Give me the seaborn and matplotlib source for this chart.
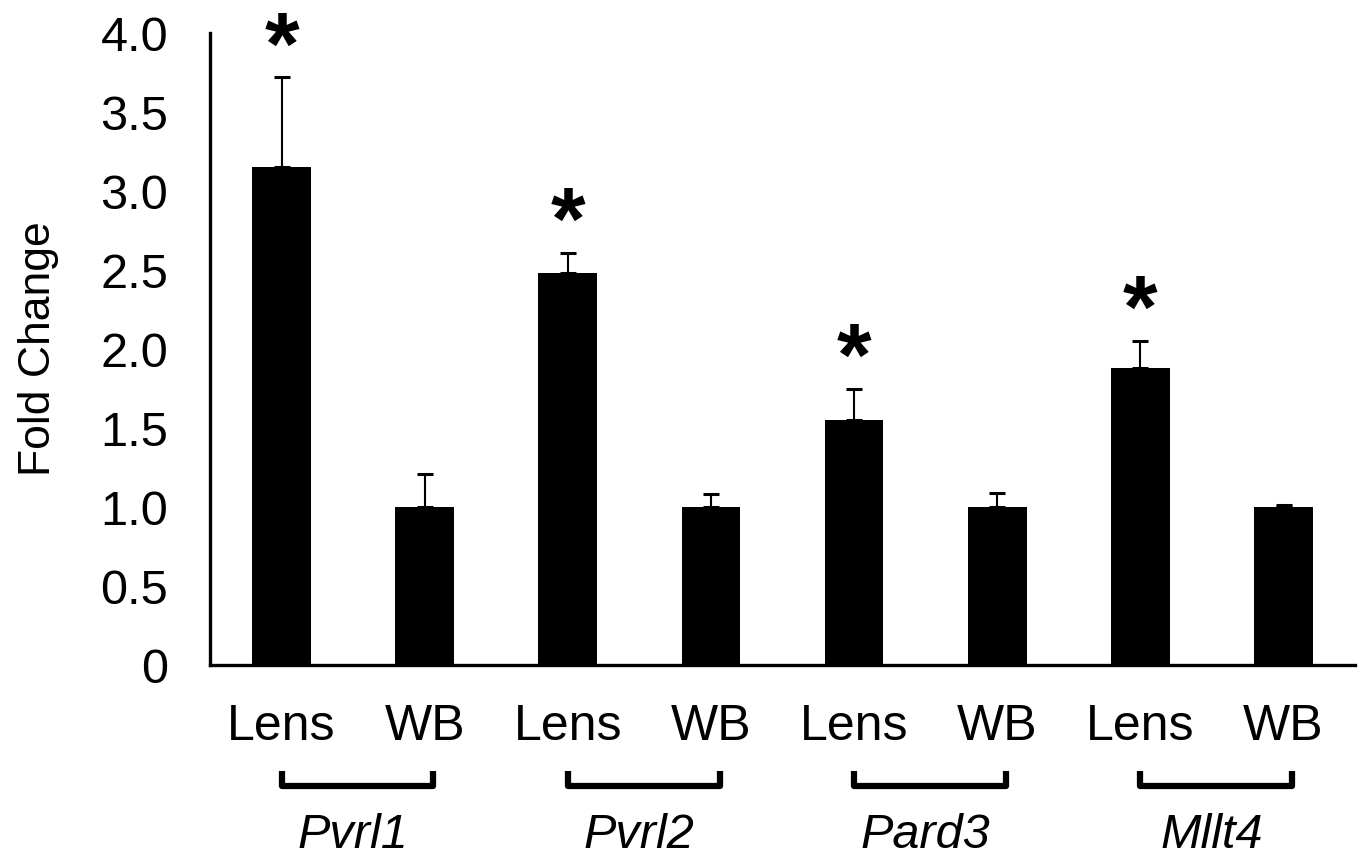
import matplotlib
matplotlib.use("Agg")
import matplotlib.pyplot as plt
import matplotlib.transforms as mtransforms
import seaborn as sns
import pandas as pd
import numpy as np

# ---- data ----
genes = ["Pvrl1", "Pvrl2", "Pard3", "Mllt4"]
tissues = ["Lens", "WB"]
lens_values = [3.15, 2.48, 1.55, 1.88]
wb_values = [1.00, 1.00, 1.00, 1.00]
lens_err = [0.57, 0.13, 0.20, 0.17]
wb_err = [0.21, 0.08, 0.09, 0.01]
significant = [True, True, True, True]
y_ticks = [0, 0.5, 1.0, 1.5, 2.0, 2.5, 3.0, 3.5, 4.0]
y_tick_labels = ["0", "0.5", "1.0", "1.5", "2.0", "2.5", "3.0", "3.5", "4.0"]

rows = []
for g, lv, wv, le, we in zip(genes, lens_values, wb_values, lens_err, wb_err):
    rows.append({"cat": f"{g} Lens", "tissue": "Lens", "gene": g, "value": lv, "err": le})
    rows.append({"cat": f"{g} WB", "tissue": "WB", "gene": g, "value": wv, "err": we})
df = pd.DataFrame(rows)

sns.set_style("white")
plt.rcParams["font.family"] = ["Liberation Sans", "DejaVu Sans"]
plt.rcParams["text.color"] = "black"
plt.rcParams["axes.labelcolor"] = "black"
plt.rcParams["xtick.color"] = "black"
plt.rcParams["ytick.color"] = "black"

fig = plt.figure(figsize=(13.66, 8.6), dpi=100)
ax = fig.add_axes([0.1537, 0.2267, 0.992 - 0.1537, 0.9616 - 0.2267])

sns.barplot(data=df, x="cat", y="value", color="black", width=0.41,
            errorbar=None, ax=ax, saturation=1)
for p in ax.patches:
    p.set_edgecolor("none")

xpos = np.arange(len(df))
ax.errorbar(xpos, df["value"], yerr=[np.zeros(len(df)), df["err"]],
            fmt="none", ecolor="black", elinewidth=1.5, capsize=5.5, capthick=2.2)

# asterisks
for i, (lv, le, s) in enumerate(zip(lens_values, lens_err, significant)):
    if s:
        ax.text(2 * i, lv + le + 0.17, "*", ha="center", va="center",
                fontsize=64, fontweight="bold", color="black")

ax.set_ylim(0, 4.0)
ax.set_xlim(-0.5, len(df) - 0.5)
ax.set_yticks(y_ticks)
ax.set_yticklabels(y_tick_labels)
ax.set_ylabel("Fold Change", fontsize=32)
ax.yaxis.set_label_coords(-0.132, 0.5)
ax.set_xlabel("")

# x ticks: boundaries as major (marks), labels on minor at centers
ax.set_xticks(np.arange(-0.5, len(df), 1.0))
ax.set_xticklabels([])
ax.set_xticks(xpos, minor=True)
ax.set_xticklabels(df["tissue"], minor=True)
ax.tick_params(axis="x", which="major", direction="out", length=10, width=2.4, color="black")
ax.tick_params(axis="x", which="minor", length=0, pad=28, labelsize=36)
ax.tick_params(axis="y", direction="out", length=10, width=2.4, color="black",
               labelsize=35, pad=20)

for side in ["top", "right"]:
    ax.spines[side].set_visible(False)
for side in ["left", "bottom"]:
    ax.spines[side].set_linewidth(2.4)
    ax.spines[side].set_color("black")

# brackets and gene labels
trans = mtransforms.blended_transform_factory(ax.transData, ax.transAxes)
for i, g in enumerate(genes):
    x0, x1 = 2 * i, 2 * i + 1.06
    ax.plot([x0, x0, x1, x1], [-0.168, -0.192, -0.192, -0.168], transform=trans,
            color="black", lw=4.5, clip_on=False, solid_joinstyle="round",
            solid_capstyle="butt")
    ax.text(2 * i + 0.5, -0.289, g, transform=trans, ha="center", va="baseline",
            fontsize=35, fontstyle="italic")

fig.savefig("out.png", dpi=100, facecolor="white")
